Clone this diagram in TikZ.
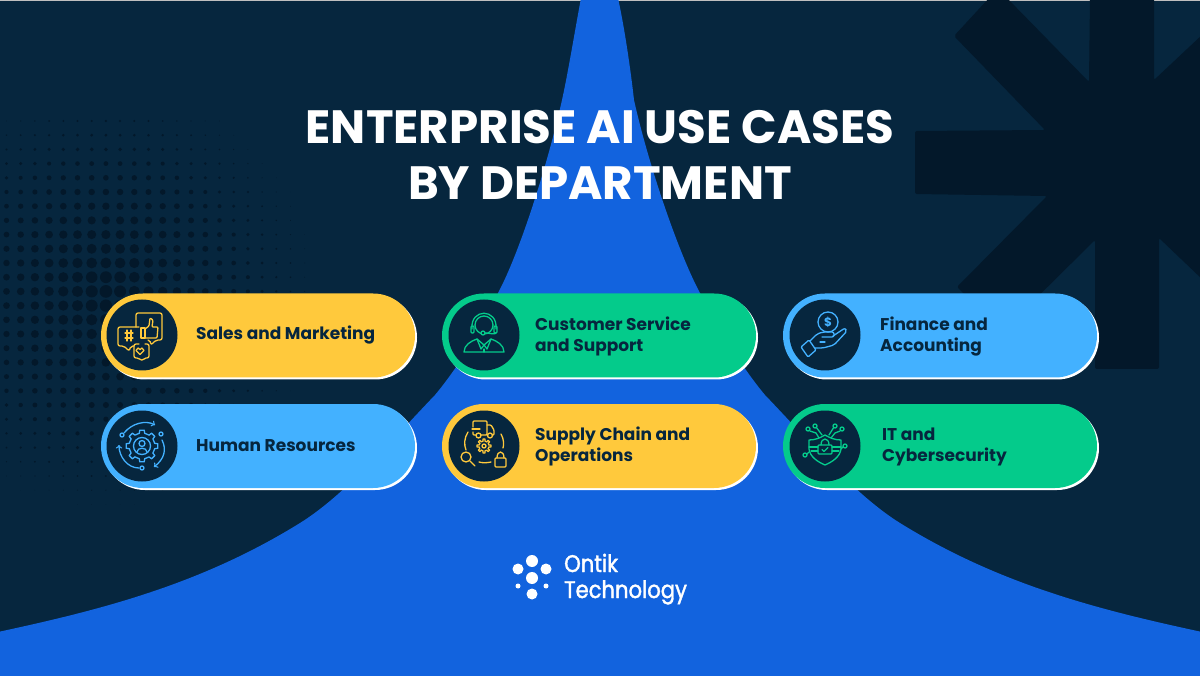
\documentclass[tikz,border=0pt]{standalone}
\usepackage{fontspec}
\setmainfont{Poppins}
\newfontfamily\logofont{Poppins}[FakeStretch=0.88,FakeBold=1.6]
\usetikzlibrary{shadows}

\definecolor{navy}{HTML}{06263E}
\definecolor{darknavy}{HTML}{03182A}
\definecolor{royal}{HTML}{1263DE}
\definecolor{sun}{HTML}{FFC93C}
\definecolor{mint}{HTML}{04CB8B}
\definecolor{sky}{HTML}{43B1FF}

\tikzset{
	pillbox/.style={rectangle, minimum width=314pt, minimum height=84pt, inner sep=0pt, rounded corners=42pt,
		general shadow={shadow xshift=2pt, shadow yshift=-2pt, fill=white}},
	iconbox/.style={circle, fill=navy, minimum size=71pt, inner sep=0pt},
	pilltext/.style={anchor=west, align=left, inner sep=0pt, text=navy, font=\fontsize{17}{21}\selectfont\bfseries},
	iconline/.style={line width=1.3pt, line cap=round, line join=round}
}

% gear outline: radius, tooth radius
\newcommand{\geartrace}[2]{
	\foreach \a in {0,45,...,315}
		\draw[iconline] (\a-12:#1) -- (\a-8:#2) -- (\a+8:#2) -- (\a+12:#1) arc (\a+12:\a+33:#1);
}

\begin{document}
\begin{tikzpicture}[x=1pt, y=-1pt]
	\useasboundingbox (0,0) rectangle (1200,676);
	\fill[navy] (0,0) rectangle (1200,676);
	\fill[black!25] (0,0) rectangle (1200,1);

	% halftone
	\foreach \i in {0,...,26}
		\foreach \j in {0,...,27} {
			\pgfmathsetmacro{\px}{6.5+14.2*\i}
			\pgfmathsetmacro{\py}{121+14.2*\j}
			\pgfmathsetmacro{\dotr}{6.5*max(1-veclen(\px-105,\py-295)/220,0.001)^1.1}
			\ifdim \dotr pt>0.15pt
				\fill[darknavy] (\px,\py) circle[radius=\dotr];
			\fi
		}

	% star
	\fill[darknavy, rounded corners=2pt] (990,-3) -- (954,36) -- (1045,130) -- (915,131) -- (915,194) -- (1047,196) -- (957,287)
		-- (1002,332) -- (1095,240) -- (1095,369) -- (1159,369) -- (1159,238) -- (1203,280) -- (1203,34) -- (1154,80) -- (1154,-3)
		-- (1090,-3) -- (1089,82) -- (1006,-3) -- cycle;

	% blue shape
	\fill[royal] (-2,632) .. controls (100,610) and (200,585) .. (300,523)
		.. controls (345,495) and (390,442) .. (435,395)
		.. controls (460,365) and (480,330) .. (498,293)
		.. controls (520,252) and (548,163) .. (562,100)
		.. controls (568,73) and (575,30) .. (581,-2)
		-- (618,-2)
		.. controls (625,30) and (631,73) .. (634,100)
		.. controls (648,163) and (678,252) .. (700,293)
		.. controls (720,330) and (740,365) .. (765,395)
		.. controls (810,442) and (855,495) .. (900,523)
		.. controls (1000,585) and (1100,610) .. (1202,632)
		-- (1202,678) -- (-2,678) -- cycle;

	\node[inner sep=0pt, align=center, text=white, font=\fontsize{46.7}{56}\selectfont\bfseries] (title) at (600,155) {ENTERPRISE AI USE CASES\\BY DEPARTMENT};

	% pills
	\node[pillbox, fill=sun] (sales) at (258,335.5) {};
	\node[pillbox, fill=sky] (hr) at (258,446) {};
	\node[pillbox, fill=mint] (support) at (599,335.5) {};
	\node[pillbox, fill=sun] (supply) at (599,446) {};
	\node[pillbox, fill=sky] (finance) at (940,335.5) {};
	\node[pillbox, fill=mint] (it) at (940,446) {};

	\node[iconbox] (salesicon) at (142,335) {};
	\node[iconbox] (hricon) at (142,446) {};
	\node[iconbox] (supporticon) at (484,335) {};
	\node[iconbox] (supplyicon) at (484,446) {};
	\node[iconbox] (financeicon) at (825,335) {};
	\node[iconbox] (iticon) at (825,446) {};

	\node[pilltext] (salestext) at (196,335) {Sales and Marketing};
	\node[pilltext] (hrtext) at (196,446) {Human Resources};
	\node[pilltext] (supporttext) at (535,336.5) {Customer Service\\and Support};
	\node[pilltext] (supplytext) at (535,446.5) {Supply Chain and\\Operations};
	\node[pilltext] (financetext) at (880,336.5) {Finance and\\Accounting};
	\node[pilltext] (ittext) at (882,446.5) {IT and\\Cybersecurity};

	% sales icon
	\begin{scope}[shift={(salesicon.center)}, sun]
		\draw[iconline, rounded corners=2pt] (-6,-8) -- (-6,-22) -- (20,-22) -- (20,5) -- (14,5) -- (9,10) -- (8,5) -- (6,5);
		\draw[iconline, rounded corners=2pt] (-3,-8) -- (-24,-8) -- (-24,11) -- (-18,11) -- (-13,16) -- (-11,11) -- (-8,11);
		\draw[iconline, rounded corners=2pt] (-3,9) -- (-8,9) -- (-8,23) -- (-3,23) -- (0,26) -- (2,23) -- (7,23) -- (7,9) -- (3,9);
		\draw[iconline] (-17,-2) -- (-9,-2) (-17,3) -- (-9,3) (-15,-5) -- (-15,6) (-11,-5) -- (-11,6);
		\draw[iconline] (-1,-7) rectangle (3,3);
		\draw[iconline, rounded corners=1pt] (3,-6) -- (7,-9) -- (8,-17) -- (11,-15) -- (10,-8) -- (16,-8) -- (15,3) -- (3,3);
		\draw[iconline] (-2,19.5) -- (-6,15.5) -- (-4,13) -- (-2,14.5) -- (0,13) -- (2,15.5) -- cycle;
	\end{scope}

	% hr icon
	\begin{scope}[shift={(hricon.center)}, sky]
		\geartrace{13}{16}
		\draw[iconline] (0,0) circle[radius=8.5];
		\draw[iconline] (0,-2.5) circle[radius=3];
		\draw[iconline] (-5,6) .. controls (-5,1) and (5,1) .. (5,6);
		\draw[iconline, ->] (-18,-13) .. controls (-10,-23) and (4,-26) .. (13,-21);
		\draw[iconline, ->] (20,-6) .. controls (25,4) and (22,13) .. (12,21);
		\draw[iconline, ->] (-3,22) .. controls (-15,22) and (-23,10) .. (-23,-1);
		\draw[iconline, fill=navy] (-20,-11) circle[radius=2];
		\draw[iconline, fill=navy] (19,-12) circle[radius=2];
		\draw[iconline, fill=navy] (0,22) circle[radius=2];
	\end{scope}

	% support icon
	\begin{scope}[shift={(supporticon.center)}, mint]
		\draw[iconline] (0,-10) circle[radius=9];
		\draw[iconline] (-12,-6) .. controls (-14,-27) and (14,-27) .. (12,-6);
		\draw[iconline, rounded corners=1pt] (-13,-9) rectangle (-10,-2);
		\draw[iconline, rounded corners=1pt] (10,-9) rectangle (13,-2);
		\draw[iconline] (12,-2) .. controls (11,0) and (6,-2) .. (1,-2);
		\draw[iconline, fill=navy] (-1,-2) circle[radius=2];
		\draw[iconline] (-20,17) .. controls (-20,10) and (-13,6) .. (-7,4) -- (0,10) -- (7,4) .. controls (13,6) and (20,10) .. (20,17) -- cycle;
		\draw[iconline] (-7,4) -- (-3,14) -- (0,10) -- (3,14) -- (7,4);
		\draw[iconline] (0,14) -- (0,17);
	\end{scope}

	% supply icon
	\begin{scope}[shift={(supplyicon.center)}, sun]
		\draw[iconline, rounded corners=1pt] (-11,-19) -- (-11,-25) -- (3,-25) -- (3,-11) -- (-3,-11) (-8,-11) -- (-11,-11) -- (-11,-14);
		\draw[iconline] (-12,-17) -- (-4,-17);
		\draw[iconline, rounded corners=1pt] (3,-21) -- (7,-21) -- (10,-16) -- (10,-11) -- (8,-11) (3,-11) -- (4,-11);
		\draw[iconline] (-5.5,-10.5) circle[radius=2.5];
		\draw[iconline] (6,-10.5) circle[radius=2.5];
		\geartrace{5}{7}
		\draw[iconline] (0,0) circle[radius=2];
		\draw[iconline] (-16,-14) .. controls (-20,-8) and (-20,-1) .. (-18,4);
		\draw[iconline] (17,-12) .. controls (20,-7) and (20,-1) .. (19,2);
		\draw[iconline] (-5,16) .. controls (-2,17) and (3,17) .. (7,16);
		\draw[iconline] (-18,11) circle[radius=5];
		\draw[iconline] (-14,15) -- (-9,20);
		\draw[iconline, rounded corners=1pt] (11,12) rectangle (22,21);
		\draw[iconline] (13,12) .. controls (13,4) and (20,4) .. (20,12);
	\end{scope}

	% finance icon
	\begin{scope}[shift={(financeicon.center)}, sky]
		\node[draw=sky, circle, line width=1.3pt, minimum size=20pt, inner sep=0pt, text=sky, font=\fontsize{12}{12}\selectfont\bfseries] (coin) at (3,-13) {\$};
		\draw[iconline, rounded corners=1pt] (-24,12) -- (-16,5) -- (-9,15) -- (-17,22) -- cycle;
		\draw[iconline, rounded corners=2pt] (-15,6) -- (-8,-1) -- (-2,-3) -- (9,-3) -- (9,2) -- (-3,2);
		\draw[iconline, rounded corners=2pt] (8,1) -- (20,-7) -- (22,-4) -- (9,10) -- (-2,13) -- (-10,13);
		\draw[iconline] (-5,7) -- (0,7);
	\end{scope}

	% it icon
	\begin{scope}[shift={(iticon.center)}, mint]
		\draw[iconline] (0,-11) .. controls (-5,-8) and (-10,-6) .. (-16,-6) -- (-16,3) .. controls (-15,11) and (-7,16) .. (0,19) .. controls (7,16) and (15,11) .. (16,3) -- (16,-6) .. controls (10,-6) and (5,-8) .. (0,-11);
		\draw[iconline, rounded corners=1pt] (-7,-1) rectangle (7,8);
		\draw[iconline] (-4,-1) .. controls (-4,-9) and (4,-9) .. (4,-1);
		\draw[iconline] (-3,3.5) -- (-1,5.5) -- (3,1.5);
		\draw[iconline] (-7,1) -- (-16,1) (-7,5) -- (-14,5) (7,1) -- (16,1) (7,5) -- (14,5);
		\draw[iconline] (-6,-8) -- (-9,-13) -- (-15,-15);
		\draw[iconline] (-3,-11) -- (-9,-19);
		\draw[iconline] (4,-11) -- (9,-19);
		\draw[iconline] (6,-8) -- (10,-13) -- (15,-15);
		\draw[iconline] (-16,6) -- (-19,9) (16,3) -- (19,0);
		\foreach \nx/\ny in {-17/-17, -10/-20, 10/-20, 17/-17, -20/9, 20/0}
			\draw[iconline, fill=navy] (\nx,\ny) circle[radius=2];
	\end{scope}

	% logo
	\fill[white] (532,561) circle[radius=6];
	\fill[white] (518,569) circle[radius=5.5];
	\fill[white] (546,569) circle[radius=5.5];
	\fill[white] (532,578) circle[radius=6];
	\fill[white] (518,586) circle[radius=2.5];
	\fill[white] (546,586) circle[radius=2.5];
	\fill[white] (532,594) circle[radius=5.5];
	\node[anchor=base west, inner sep=0pt, text=white, font=\logofont\fontsize{24}{24}\selectfont] (ontik) at (564,572) {Ontik};
	\node[anchor=base west, inner sep=0pt, text=white, font=\logofont\fontsize{24}{24}\selectfont] (technology) at (564,598) {Technology};
\end{tikzpicture}
\end{document}
